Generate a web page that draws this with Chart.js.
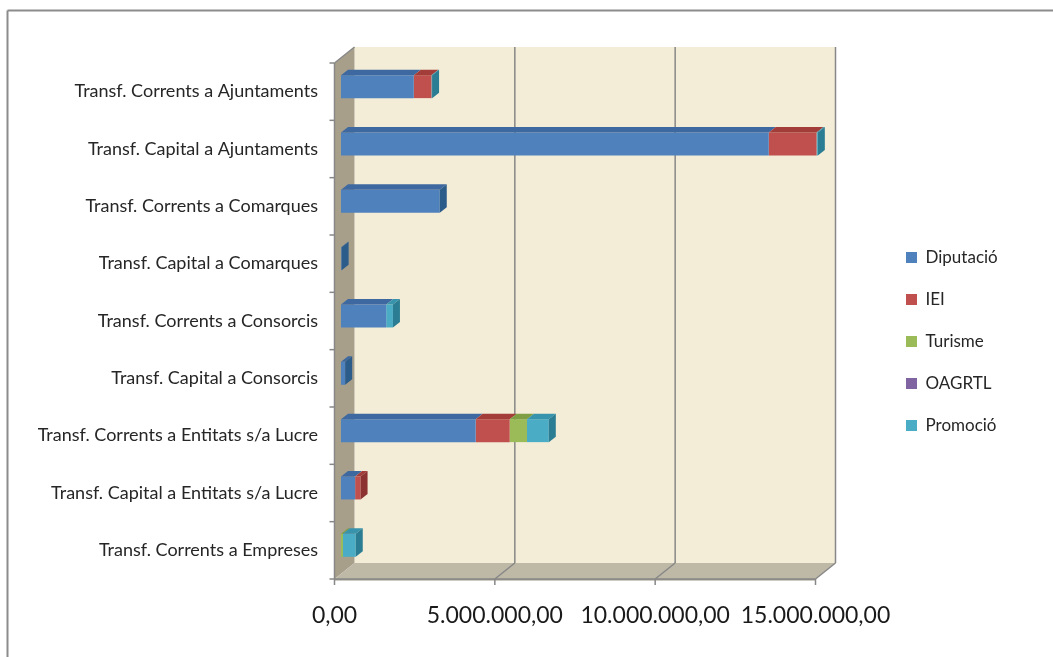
<!DOCTYPE html>
<html>
<head>
<meta charset="utf-8">
<script src="https://cdn.jsdelivr.net/npm/chart.js@4.4.1/dist/chart.umd.min.js"></script>
<style>
  html, body { margin: 0; padding: 0; background: #fff; }
  #wrap { width: 1053px; height: 657px; }
</style>
</head>
<body>
<div id="wrap"><canvas id="chart"></canvas></div>
<script>
const CATEGORIES = [
    'Transf. Corrents a Ajuntaments',
    'Transf. Capital a Ajuntaments',
    'Transf. Corrents a Comarques',
    'Transf. Capital a Comarques',
    'Transf. Corrents a Consorcis',
    'Transf. Capital a Consorcis',
    'Transf. Corrents a Entitats s/a Lucre',
    'Transf. Capital a Entitats s/a Lucre',
    'Transf. Corrents a Empreses',
];

const DIPUTACIO = [2270000, 13340000, 3080000, 20000, 1410000, 130000, 4200000, 440000, 0];
const IEI = [550000, 1490000, 0, 0, 0, 0, 1060000, 170000, 0];
const TURISME = [0, 0, 0, 0, 0, 0, 540000, 0, 60000];
const OAGRTL = [0, 0, 0, 0, 0, 0, 0, 0, 0];
const PROMOCIO = [20000, 40000, 0, 0, 210000, 0, 680000, 0, 400000];

const X_MAX = 15000000;
const X_STEP = 5000000;

// front / top / side colours per series
const SERIES_COLORS = [
    ['#4F81BD', '#3E69A0', '#2C5D8A'],
    ['#C0504D', '#A23D3A', '#8C3230'],
    ['#9BBB59', '#7F9E44', '#6A8838'],
    ['#8064A2', '#674F86', '#553F70'],
    ['#4BACC6', '#3893AC', '#2A7D92'],
];

const fmtNumber = (v) => {
    const s = Math.round(v).toString().replace(/\B(?=(\d{3})+(?!\d))/g, '.');
    return s + ',00';
};

// offsets of the front plane and back wall relative to the bar plane
const FRONT = { dx: -6.5, dy: 5 };
const BACK = { dx: 13.5, dy: -11 };
const BAR_DEPTH = { dx: 7, dy: -5.5 };
const GRID_COLOR = '#878787';

const poly = (ctx, pts, fill) => {
    ctx.beginPath();
    ctx.moveTo(pts[0][0], pts[0][1]);
    pts.slice(1).forEach((p) => ctx.lineTo(p[0], p[1]));
    ctx.closePath();
    ctx.fillStyle = fill;
    ctx.fill();
};

const line = (ctx, x1, y1, x2, y2) => {
    ctx.beginPath();
    ctx.moveTo(x1, y1);
    ctx.lineTo(x2, y2);
    ctx.stroke();
};

const walls3d = {
    id: 'walls3d',
    afterLayout(chart) {
        // push the legend column to the right, like the original
        const lg = chart.legend;
        lg.left = 906 - lg.options.labels.padding;
        lg.right = chart.width;
        lg.width = lg.right - lg.left;
        lg.top -= 16;
        lg.bottom -= 16;
    },
    beforeDraw(chart) {
        const ctx = chart.ctx;
        ctx.save();
        ctx.fillStyle = '#fff';
        ctx.fillRect(0, 0, chart.width, chart.height);
        ctx.strokeStyle = '#8c8c8c';
        ctx.lineWidth = 2;
        line(ctx, 7.5, 10.5, chart.width, 10.5);
        line(ctx, 7.5, 10.5, 7.5, chart.height);
        ctx.restore();
    },
    beforeDatasetsDraw(chart) {
        const ctx = chart.ctx;
        const { left, right, top, bottom } = chart.chartArea;
        const xs = chart.scales.x;
        const ys = chart.scales.y;
        const fl = left + FRONT.dx, ft = top + FRONT.dy, fb = bottom + FRONT.dy, fr = right + FRONT.dx;
        const bl = left + BACK.dx, bt = top + BACK.dy, bb = bottom + BACK.dy, br = right + BACK.dx;
        ctx.save();
        // back wall
        poly(ctx, [[bl, bt], [br, bt], [br, bb], [bl, bb]], '#F3EDD7');
        // side wall
        poly(ctx, [[fl, ft], [bl, bt], [bl, bb], [fl, fb]], '#A89F8B');
        // floor
        poly(ctx, [[fl, fb], [bl, bb], [br, bb], [fr, fb]], '#BEB8A7');
        poly(ctx, [[fl, fb], [fr, fb], [fr, fb + 1.5], [fl, fb + 1.5]], '#9d9788');

        ctx.strokeStyle = GRID_COLOR;
        ctx.lineWidth = 1.5;
        for (let v = 0; v <= X_MAX; v += X_STEP) {
            const px = xs.getPixelForValue(v);
            if (v > 0) {
                line(ctx, px + BACK.dx, bt, px + BACK.dx, bb);
                line(ctx, px + BACK.dx, bb, px + FRONT.dx, fb);
            }
            line(ctx, px + FRONT.dx, fb, px + FRONT.dx, fb + 6);
        }
        // axes on the front plane
        line(ctx, fl, fb, fr, fb);
        line(ctx, fl, ft, fl, fb);
        line(ctx, fl, ft, bl, bt);
        const band = (ys.getPixelForValue(1) - ys.getPixelForValue(0));
        for (let i = 0; i <= CATEGORIES.length; i++) {
            const py = ys.getPixelForValue(i) - band / 2 + FRONT.dy;
            line(ctx, fl - 5, py, fl, py);
        }
        ctx.restore();
    },
    afterDatasetsDraw(chart) {
        const ctx = chart.ctx;
        ctx.save();
        const n = chart.data.labels.length;
        for (let i = 0; i < n; i++) {
            let last = null;
            chart.data.datasets.forEach((ds, d) => {
                const el = chart.getDatasetMeta(d).data[i];
                if (!el || !ds.data[i]) return;
                const t = el.y - el.height / 2;
                const x0 = Math.min(el.base, el.x), x1 = Math.max(el.base, el.x);
                poly(ctx, [[x0, t], [x1, t], [x1 + BAR_DEPTH.dx, t + BAR_DEPTH.dy], [x0 + BAR_DEPTH.dx, t + BAR_DEPTH.dy]], SERIES_COLORS[d][1]);
                last = { el, d, x1, t };
            });
            if (last) {
                const b = last.t + last.el.height;
                poly(ctx, [[last.x1, last.t], [last.x1 + BAR_DEPTH.dx, last.t + BAR_DEPTH.dy],
                    [last.x1 + BAR_DEPTH.dx, b + BAR_DEPTH.dy], [last.x1, b]], SERIES_COLORS[last.d][2]);
            }
        }
        ctx.restore();
    },
};

const makeDataset = (label, data, idx) => ({
    label,
    data,
    backgroundColor: SERIES_COLORS[idx][0],
    borderWidth: 0,
    categoryPercentage: 0.8,
    barPercentage: 0.5,
});

new Chart(document.getElementById('chart'), {
    type: 'bar',
    data: {
        labels: CATEGORIES,
        datasets: [
            makeDataset('Diputació', DIPUTACIO, 0),
            makeDataset('IEI', IEI, 1),
            makeDataset('Turisme', TURISME, 2),
            makeDataset('OAGRTL', OAGRTL, 3),
            makeDataset('Promoció', PROMOCIO, 4),
        ],
    },
    plugins: [walls3d],
    options: {
        indexAxis: 'y',
        responsive: true,
        maintainAspectRatio: false,
        animation: false,
        layout: { padding: { top: 58, right: 131, bottom: 0, left: 0 } },
        plugins: {
            tooltip: { enabled: false },
            legend: {
                position: 'right',
                align: 'center',
                maxWidth: 100,
                labels: {
                    boxWidth: 11,
                    boxHeight: 11,
                    padding: 25,
                    color: '#262626',
                    font: { family: 'Lato', size: 17 },
                },
            },
        },
        scales: {
            x: {
                stacked: true,
                min: 0,
                max: X_MAX,
                grid: { display: false, drawTicks: false },
                border: { display: false },
                afterFit: (scale) => { scale.height = 83; },
                ticks: {
                    stepSize: X_STEP,
                    autoSkip: false,
                    maxRotation: 0,
                    padding: 28,
                    labelOffset: -6.5,
                    color: '#1a1a1a',
                    font: { family: 'Lato', size: 23 },
                    callback: (value) => fmtNumber(value),
                },
            },
            y: {
                stacked: true,
                grid: { display: false, drawTicks: false },
                border: { display: false },
                afterFit: (scale) => { scale.width = 341; },
                ticks: {
                    padding: 23,
                    labelOffset: 5,
                    color: '#262626',
                    font: { family: 'Lato', size: 18 },
                },
            },
        },
    },
});
</script>
</body>
</html>
